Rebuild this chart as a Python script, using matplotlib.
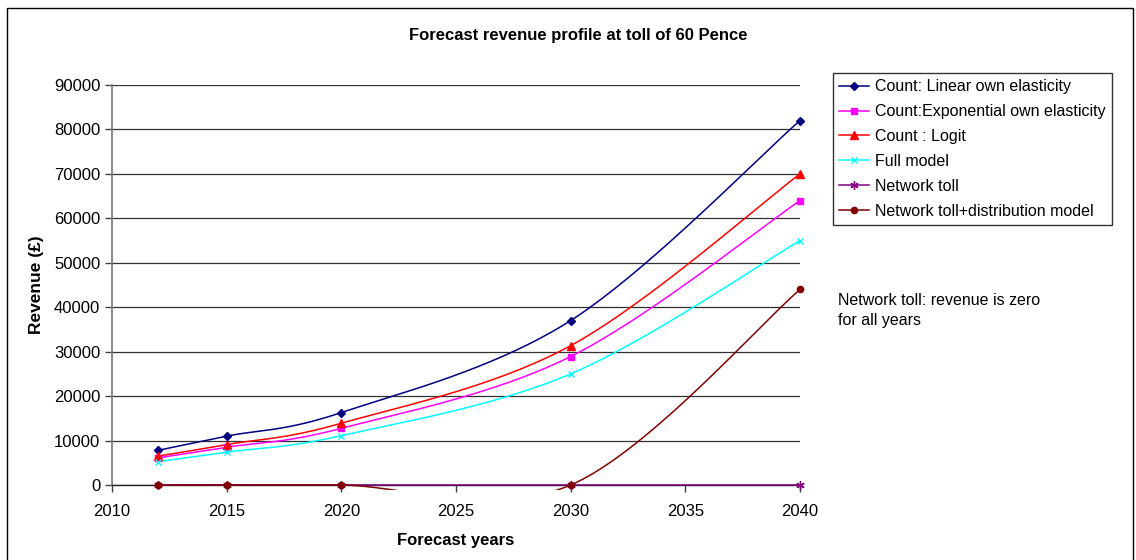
import matplotlib
matplotlib.use('Agg')
import matplotlib.pyplot as plt
import numpy as np
from matplotlib.patches import Rectangle

plt.rcParams['font.family'] = ['Liberation Sans', 'DejaVu Sans']

years = [2012, 2015, 2020, 2030, 2040]
linear_elast = [7800, 11000, 16300, 37000, 82000]
expo_elast = [6100, 8500, 12750, 28900, 64000]
logit = [6500, 9100, 13900, 31350, 70000]
full_model = [5250, 7400, 11100, 25000, 55000]
network_toll = [0, 0, 0, 0, 0]
network_dist = [0, 0, 0, 0, 44000]

series = [
    ('Count: Linear own elasticity', linear_elast, '#000080', 'D', 4),
    ('Count:Exponential own elasticity', expo_elast, '#FF00FF', 's', 4.5),
    ('Count : Logit', logit, '#FF0000', '^', 5.5),
    ('Full model', full_model, '#00FFFF', 'x', 5),
    ('Network toll', network_toll, '#800080', (6, 2, 0), 6),
    ('Network toll+distribution model', network_dist, '#800000', 'o', 4.5),
]


def smooth(xs, ys, n=40):
    # bezier smoothing through every point, spreadsheet style
    p = np.column_stack([xs, ys]).astype(float)
    p = np.vstack([p[0], p, p[-1]])
    out = []
    for i in range(1, len(p) - 2):
        p0, p1, p2, p3 = p[i - 1], p[i], p[i + 1], p[i + 2]
        c1 = p1 + (p2 - p0) / 6.0
        c2 = p2 - (p3 - p1) / 6.0
        t = np.linspace(0, 1, n)[:, None]
        b = ((1 - t) ** 3) * p1 + 3 * ((1 - t) ** 2) * t * c1 + 3 * (1 - t) * t ** 2 * c2 + t ** 3 * p2
        out.append(b if i == 1 else b[1:])
    b = np.vstack(out)
    return b[:, 0], b[:, 1]


fig = plt.figure(figsize=(11.36, 5.6), dpi=100)
ax = fig.add_axes([0.0986, 0.1339, 0.6056, 0.7143])

# plot area clip reaches a few pixels under the x axis
clip = Rectangle((0, -0.0125), 1.0, 1.0125, transform=ax.transAxes,
                 facecolor='none', edgecolor='none')
ax.add_patch(clip)

for label, vals, color, marker, ms in series:
    sx, sy = smooth(years, vals)
    ln, = ax.plot(sx, sy, color=color, lw=1.1, zorder=3)
    ln.set_clip_path(clip)
    ax.plot(years, vals, linestyle='none', marker=marker, color=color,
            markersize=ms, markeredgewidth=1.0, clip_on=False, zorder=4)
    ax.plot([], [], color=color, lw=1.1, marker=marker, markersize=ms,
            markeredgewidth=1.0, label=label)

ax.set_xlim(2010, 2040)
ax.set_ylim(0, 90000)
ax.set_xticks(range(2010, 2041, 5))
ax.set_yticks(range(0, 90001, 10000))
ax.yaxis.grid(True, color='#303030', lw=0.9)
ax.set_axisbelow(True)
for s in ['top', 'right']:
    ax.spines[s].set_visible(False)
ax.spines['left'].set_color('#808080')
ax.spines['left'].set_linewidth(1.3)
ax.spines['bottom'].set_color('#202020')
ax.spines['bottom'].set_linewidth(1.0)
ax.tick_params(axis='both', labelsize=12, direction='out', length=5,
               color='#404040', width=1)
ax.tick_params(axis='x', pad=9)

ax.set_xlabel('Forecast years', fontsize=12, fontweight='bold', labelpad=10)
ax.set_ylabel('Revenue (£)', fontsize=12.5, fontweight='bold', labelpad=7)
fig.text(0.509, 0.937, 'Forecast revenue profile at toll of 60 Pence',
         ha='center', va='center', fontsize=12, fontweight='bold')

handles, labels = ax.get_legend_handles_labels()
leg = fig.legend(handles, labels, loc='upper left',
                 bbox_to_anchor=(0.733, 0.87), fontsize=11.5, frameon=True,
                 fancybox=False, edgecolor='black', handlelength=1.9,
                 handletextpad=0.35, borderpad=0.4, labelspacing=0.62,
                 borderaxespad=0)
leg.get_frame().set_linewidth(1.0)

fig.text(0.738, 0.445, 'Network toll: revenue is zero\nfor all years',
         fontsize=11.5, ha='left', va='center', linespacing=1.45)

fig.patches.append(Rectangle((7 / 1136, -0.02), 1126 / 1136, 1.0 - 8 / 560 + 0.02,
                             transform=fig.transFigure, fill=False,
                             edgecolor='black', lw=1.0))

fig.savefig('out.png', dpi=100)
